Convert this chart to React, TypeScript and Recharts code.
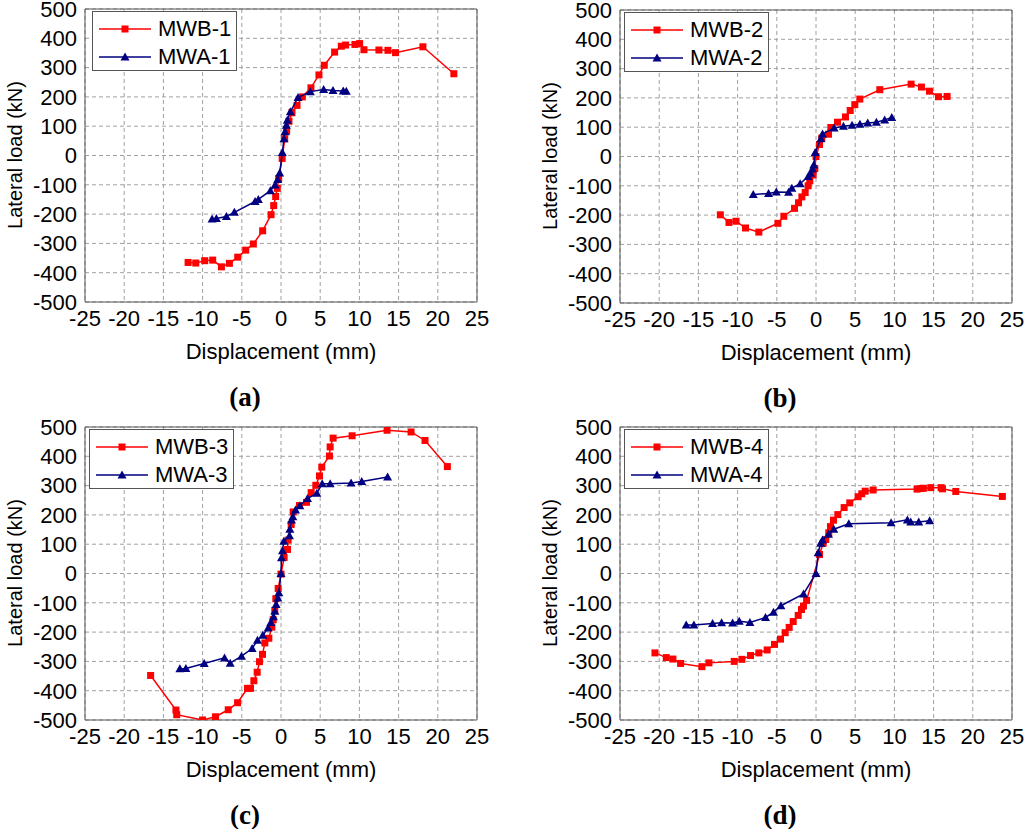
import React from "react";
import { ScatterChart, Scatter, XAxis, YAxis, CartesianGrid } from "recharts";

// axis ticks
const X_TICKS = [-25, -20, -15, -10, -5, 0, 5, 10, 15, 20, 25];
const X_MINOR = [-22.5, -17.5, -12.5, -7.5, -2.5, 2.5, 7.5, 12.5, 17.5, 22.5];
const Y_TICKS = [-500, -400, -300, -200, -100, 0, 100, 200, 300, 400, 500];
const Y_MINOR = [-450, -350, -250, -150, -50, 50, 150, 250, 350, 450];

// [displacement mm, lateral load kN]
const MWB1 = [
  [-11.85, -365], [-10.87, -367], [-9.73, -359], [-8.71, -357], [-7.6, -380], [-6.58, -368],
  [-5.52, -347], [-4.5, -323], [-3.53, -302], [-2.34, -257], [-1.27, -202], [-0.93, -171],
  [-0.68, -140], [-0.47, -112], [-0.3, -79], [0.15, -10], [0.47, 57], [0.72, 83], [1.02, 117],
  [1.4, 146], [2.04, 171], [2.72, 200], [3.82, 231], [4.84, 275], [5.52, 308], [6.84, 353],
  [7.69, 373], [8.24, 377], [9.43, 379], [10.03, 382], [10.58, 361], [12.49, 360], [13.64, 359],
  [14.61, 351], [18.1, 371], [22.05, 279],
];
const MWA1 = [
  [-8.79, -217], [-8.24, -215], [-6.97, -208], [-5.95, -194], [-3.31, -157], [-2.89, -150],
  [-1.36, -120], [-0.76, -101], [-0.42, -82], [-0.17, -60], [0.17, 10], [0.38, 57], [0.51, 81],
  [0.68, 103], [0.81, 120], [1.19, 149], [2.17, 198], [3.74, 218], [5.44, 225], [6.63, 222],
  [7.94, 220], [8.33, 219],
];

const MWB2 = [
  [-12.2, -199], [-11.1, -225], [-10.2, -221], [-8.99, -244], [-7.29, -258], [-4.86, -228],
  [-4.1, -204], [-2.74, -177], [-2.23, -158], [-1.8, -138], [-1.38, -123], [-1.0, -100],
  [-0.79, -83], [-0.36, -63], [-0.15, -41], [0, 0], [0.45, 41], [0.74, 63], [1.59, 76],
  [1.89, 99], [2.74, 117], [3.76, 135], [4.36, 157], [4.95, 177], [5.59, 196], [8.14, 228],
  [12.13, 247], [13.45, 237], [14.47, 223], [15.62, 204], [16.72, 205],
];
const MWA2 = [
  [-8.0, -130], [-6.05, -126], [-5.07, -121], [-3.5, -122], [-3.08, -108], [-2.02, -93],
  [-1.0, -68], [-0.7, -57], [-0.45, -43], [-0.28, -29], [-0.1, 14], [0.62, 61], [0.83, 77],
  [2.31, 97], [3.5, 103], [4.6, 107], [5.6, 110], [6.6, 114], [7.7, 117], [8.76, 125],
  [9.66, 133],
];

const MWB3 = [
  [-16.63, -348], [-13.4, -466], [-13.3, -482], [-10.0, -500], [-8.35, -489], [-6.73, -465],
  [-5.54, -441], [-4.27, -392], [-3.89, -392], [-3.46, -366], [-3.04, -337], [-2.74, -301],
  [-2.36, -276], [-2.06, -237], [-1.55, -221], [-1.17, -183], [-1.0, -158], [-0.79, -126],
  [-0.66, -86], [-0.36, -51], [0, -2], [0.4, 55], [0.83, 82], [0.91, 114], [1.3, 167],
  [1.55, 210], [2.36, 232], [3.25, 243], [3.85, 276], [4.44, 301], [4.91, 333], [5.2, 363],
  [6.18, 401], [6.27, 432], [6.65, 462], [9.07, 470], [13.53, 489], [16.59, 483],
  [18.37, 454], [21.22, 365],
];
const MWA3 = [
  [-12.9, -325], [-12.13, -324], [-9.8, -307], [-7.2, -288], [-6.48, -306], [-5.04, -282],
  [-3.68, -256], [-3.0, -228], [-2.32, -211], [-1.64, -186], [-1.3, -167], [-0.96, -148],
  [-0.79, -129], [-0.62, -106], [-0.4, -84], [-0.28, -66], [0, 0], [0.06, 54], [0.19, 78],
  [0.36, 110], [1.08, 129], [1.13, 151], [1.34, 183], [1.51, 194], [1.85, 217], [2.4, 231],
  [3.38, 256], [4.57, 274], [5.25, 306], [6.27, 306], [8.94, 309], [10.3, 314], [13.6, 329],
];

const MWB4 = [
  [-20.54, -271], [-19.1, -287], [-18.25, -292], [-17.27, -307], [-14.55, -318], [-13.66, -305],
  [-10.43, -300], [-9.45, -293], [-8.35, -280], [-7.29, -271], [-6.23, -261], [-5.29, -242],
  [-4.53, -224], [-3.93, -202], [-3.42, -184], [-2.91, -164], [-2.27, -143], [-1.85, -123],
  [-1.6, -111], [-1.2, -92], [0.45, 65], [0.91, 103], [1.25, 116], [1.63, 139], [1.85, 160],
  [2.23, 182], [2.78, 201], [3.59, 225], [4.31, 241], [5.37, 262], [5.84, 272], [6.27, 281],
  [7.29, 285], [12.89, 288], [13.4, 290], [13.7, 291], [14.64, 293], [15.96, 293],
  [16.13, 289], [17.83, 280], [23.77, 263],
];
const MWA4 = [
  [-16.55, -176], [-15.57, -176], [-13.19, -171], [-12.04, -168], [-10.64, -169], [-9.79, -163],
  [-8.43, -167], [-6.44, -150], [-5.42, -132], [-4.48, -110], [-1.59, -70], [0, 0], [0.28, 71],
  [0.6, 103], [0.83, 114], [1.59, 134], [2.27, 151], [4.18, 170], [9.58, 173], [11.66, 183],
  [12.08, 176], [13.1, 176], [14.5, 180],
];

const RED = "#ff0000";
const BLUE = "#000080";
const FRAME = "#555555";
const SANS = '"Liberation Sans", Arial, sans-serif';
const SERIF = '"Liberation Serif", "Times New Roman", serif';
const TOP_PAD = 19;

const toPts = (arr: number[][]) => arr.map(([x, y]) => ({ x, y }));

const Square = (p: any) => (
  <rect x={p.cx - 3.5} y={p.cy - 3.5} width={7} height={7} fill={RED} />
);
const Tri = (p: any) => (
  <polygon
    points={`${p.cx},${p.cy - 4.5} ${p.cx + 4.5},${p.cy + 3.5} ${p.cx - 4.5},${p.cy + 3.5}`}
    fill={BLUE}
  />
);

function LegendBox({ left, top, redName, blueName }: {
  left: number; top: number; redName: string; blueName: string;
}) {
  const row = (name: string, color: string, tri: boolean) => (
    <div style={{ display: "flex", alignItems: "center", height: 28 }}>
      <svg width={60} height={12} style={{ marginLeft: 4 }}>
        <line x1={2} y1={6} x2={54} y2={6} stroke={color} strokeWidth={1.5} />
        {tri ? (
          <polygon points="28,1.5 32.5,9.5 23.5,9.5" fill={color} />
        ) : (
          <rect x={24.5} y={2.5} width={7} height={7} fill={color} />
        )}
      </svg>
      <span style={{ fontSize: 22, fontFamily: SANS, marginLeft: 1, lineHeight: "28px" }}>{name}</span>
    </div>
  );
  return (
    <div
      style={{
        position: "absolute", left, top, width: 145, height: 60,
        border: `1px solid ${FRAME}`, background: "#fff",
        paddingTop: 3, boxSizing: "border-box",
      }}
    >
      {row(redName, RED, false)}
      {row(blueName, BLUE, true)}
    </div>
  );
}

function Panel({ left, plotTop, width, red, blue, redName, blueName, caption, legendDx }: {
  left: number; plotTop: number; width: number; red: number[][]; blue: number[][];
  redName: string; blueName: string; caption: string; legendDx: number;
}) {
  const plotLeft = left + 85;
  return (
    <>
      <div style={{ position: "absolute", left, top: plotTop - TOP_PAD }}>
        <ScatterChart
          width={width}
          height={331 + TOP_PAD}
          margin={{ top: TOP_PAD, right: width - 477, bottom: 8, left: 25 }}
        >
          <CartesianGrid
            xAxisId="main"
            yAxisId="main"
            stroke="#a0a0a0"
            strokeDasharray="4 3"
          />
          <XAxis
            xAxisId="main" type="number" dataKey="x" domain={[-25, 25]} ticks={X_TICKS}
            allowDataOverflow interval={0} height={30} tickLine={false}
            axisLine={{ stroke: FRAME }}
            tick={{ fill: "#000", fontSize: 22, fontFamily: SANS }}
          />
          <XAxis xAxisId="bMaj" type="number" domain={[-25, 25]} ticks={X_TICKS} allowDataOverflow
            interval={0} mirror tick={false} tickSize={6} axisLine={false} tickLine={{ stroke: FRAME }} />
          <XAxis xAxisId="bMin" type="number" domain={[-25, 25]} ticks={X_MINOR} allowDataOverflow
            interval={0} mirror tick={false} tickSize={3} axisLine={false} tickLine={{ stroke: FRAME }} />
          <XAxis xAxisId="tMaj" orientation="top" type="number" domain={[-25, 25]} ticks={X_TICKS}
            allowDataOverflow interval={0} mirror tick={false} tickSize={6}
            axisLine={{ stroke: FRAME }} tickLine={{ stroke: FRAME }} />
          <XAxis xAxisId="tMin" orientation="top" type="number" domain={[-25, 25]} ticks={X_MINOR}
            allowDataOverflow interval={0} mirror tick={false} tickSize={3} axisLine={false}
            tickLine={{ stroke: FRAME }} />
          <YAxis
            yAxisId="main" type="number" dataKey="y" domain={[-500, 500]} ticks={Y_TICKS}
            allowDataOverflow interval={0} width={60} tickLine={false}
            axisLine={{ stroke: FRAME }}
            tick={{ fill: "#000", fontSize: 22, fontFamily: SANS }}
          />
          <YAxis yAxisId="lMaj" type="number" domain={[-500, 500]} ticks={Y_TICKS} allowDataOverflow
            interval={0} mirror tick={false} tickSize={6} axisLine={false} tickLine={{ stroke: FRAME }} />
          <YAxis yAxisId="lMin" type="number" domain={[-500, 500]} ticks={Y_MINOR} allowDataOverflow
            interval={0} mirror tick={false} tickSize={3} axisLine={false} tickLine={{ stroke: FRAME }} />
          <YAxis yAxisId="rMaj" orientation="right" type="number" domain={[-500, 500]} ticks={Y_TICKS}
            allowDataOverflow interval={0} mirror tick={false} tickSize={6}
            axisLine={{ stroke: FRAME }} tickLine={{ stroke: FRAME }} />
          <YAxis yAxisId="rMin" orientation="right" type="number" domain={[-500, 500]} ticks={Y_MINOR}
            allowDataOverflow interval={0} mirror tick={false} tickSize={3} axisLine={false}
            tickLine={{ stroke: FRAME }} />
          <Scatter
            xAxisId="main" yAxisId="main" name={redName} data={toPts(red)}
            line={{ stroke: RED, strokeWidth: 1.5 }} lineType="joint"
            shape={Square} isAnimationActive={false}
          />
          <Scatter
            xAxisId="main" yAxisId="main" name={blueName} data={toPts(blue)}
            line={{ stroke: BLUE, strokeWidth: 1.5 }} lineType="joint"
            shape={Tri} isAnimationActive={false}
          />
        </ScatterChart>
      </div>
      <LegendBox left={plotLeft + legendDx} top={plotTop + 2} redName={redName} blueName={blueName} />
      <div
        style={{
          position: "absolute", left: plotLeft - 70 - 100, top: plotTop + 146 - 12,
          width: 200, height: 24, lineHeight: "24px", textAlign: "center",
          transform: "rotate(-90deg)", fontSize: 20, fontFamily: SANS, color: "#000",
        }}
      >
        Lateral load (kN)
      </div>
      <div
        style={{
          position: "absolute", left: plotLeft + 196 - 120, top: plotTop + 293 + 50 - 13,
          width: 240, height: 26, lineHeight: "26px", textAlign: "center",
          fontSize: 22, fontFamily: SANS, color: "#000",
        }}
      >
        Displacement (mm)
      </div>
      <div
        style={{
          position: "absolute", left: plotLeft + 160 - 50, top: plotTop + 293 + 95 - 16,
          width: 100, height: 32, lineHeight: "32px", textAlign: "center",
          fontSize: 27, fontWeight: "bold", fontFamily: SERIF, color: "#000",
        }}
      >
        {caption}
      </div>
    </>
  );
}

export default function App() {
  return (
    <div
      style={{
        position: "absolute", left: 0, top: 0, width: 1024, height: 829,
        background: "#fff", overflow: "hidden",
      }}
    >
      <Panel left={0} plotTop={9} width={500} red={MWB1} blue={MWA1}
        redName="MWB-1" blueName="MWA-1" caption="(a)" legendDx={7} />
      <Panel left={535} plotTop={10} width={489} red={MWB2} blue={MWA2}
        redName="MWB-2" blueName="MWA-2" caption="(b)" legendDx={4} />
      <Panel left={0} plotTop={427} width={500} red={MWB3} blue={MWA3}
        redName="MWB-3" blueName="MWA-3" caption="(c)" legendDx={4} />
      <Panel left={535} plotTop={427} width={489} red={MWB4} blue={MWA4}
        redName="MWB-4" blueName="MWA-4" caption="(d)" legendDx={4} />
    </div>
  );
}
